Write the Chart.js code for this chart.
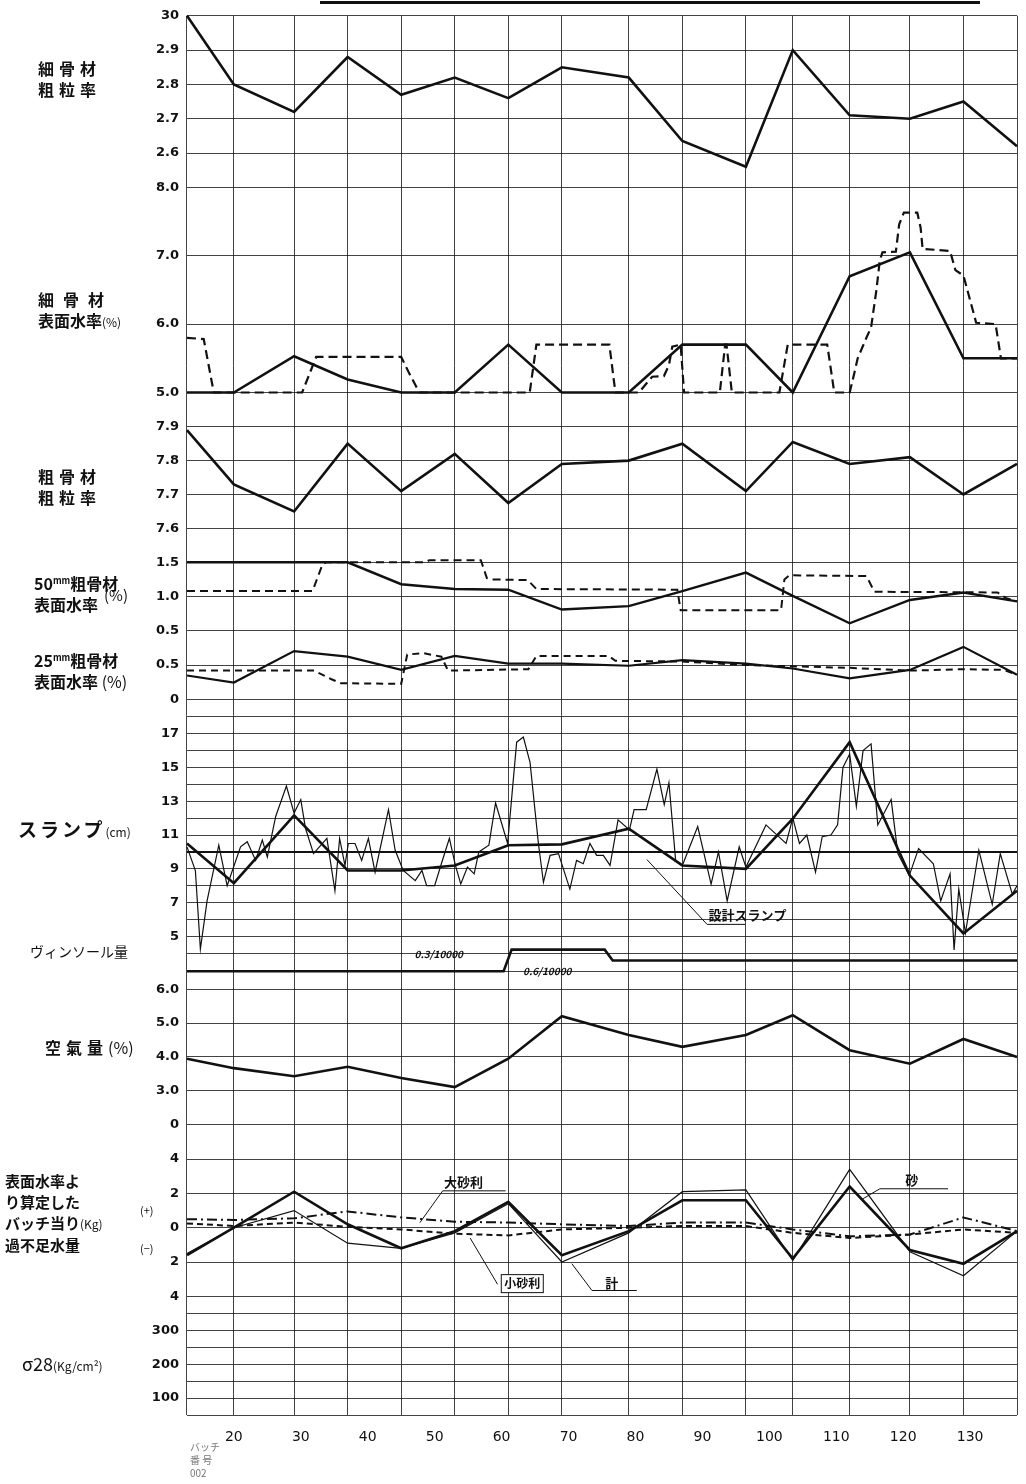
<!DOCTYPE html>
<html>
<head>
<meta charset="utf-8">
<script src="https://cdn.jsdelivr.net/npm/chart.js@4.4.0/dist/chart.umd.min.js"></script>
<style>
  body { margin: 0; background: #fff; }
  #wrap { position: relative; width: 1026px; height: 1484px; overflow: hidden; }
  #chart { position: absolute; left: 0; top: 0; }
  .ttl { position: absolute; font-family: "Noto Sans CJK JP", sans-serif; font-weight: 700; color: #111;
         font-size: 16px; line-height: 21px; white-space: nowrap; }
  .ttl small { font-size: 12px; font-weight: 400; }
  .ttl sup { font-size: 9px; }
  .topline { position: absolute; left: 320px; top: 1px; width: 660px; height: 3px; background: #111; }
</style>
</head>
<body>
<div id="wrap">
  <canvas id="chart" width="1026" height="1484"></canvas>
  <div class="topline"></div>

  <div class="ttl" style="left:38px;top:58px;letter-spacing:5px">細骨材<br>粗粒率</div>
  <div class="ttl" style="left:38px;top:289px"><span style="letter-spacing:9px">細骨材</span><br>表面水率<small>(%)</small></div>
  <div class="ttl" style="left:38px;top:466px;letter-spacing:5px">粗骨材<br>粗粒率</div>
  <div class="ttl" style="left:34px;top:570px">50<sup>mm</sup>粗骨材<br>表面水率</div>
  <div class="ttl" style="left:104px;top:584px;font-weight:400;font-size:15px">(%)</div>
  <div class="ttl" style="left:34px;top:647px">25<sup>mm</sup>粗骨材<br>表面水率 <span style="font-weight:400">(%)</span></div>
  <div class="ttl" style="left:18px;top:818px;font-size:19px;letter-spacing:3px">スランプ<small style="letter-spacing:0">(cm)</small></div>
  <div class="ttl" style="left:30px;top:941px;font-size:14px;font-weight:400">ヴィンソール量</div>
  <div class="ttl" style="left:45px;top:1037px;letter-spacing:5px">空氣量<span style="font-weight:400;letter-spacing:0">(%)</span></div>
  <div class="ttl" style="left:5px;top:1170px;font-size:15px;line-height:21px">表面水率よ<br>り算定した<br>バッチ当り<small>(Kg)</small><br>過不足水量</div>
  <div class="ttl" style="left:140px;top:1200px;font-size:11px;font-weight:400">(+)</div>
  <div class="ttl" style="left:140px;top:1238px;font-size:11px;font-weight:400">(−)</div>
  <div class="ttl" style="left:22px;top:1353px;font-size:18px;font-weight:400">σ28<small>(Kg/cm²)</small></div>
  <div class="ttl" style="left:190px;top:1440px;font-size:10px;line-height:13px;font-weight:400;color:#777">バッチ<br>番 号<br>002</div>
</div>

<script>
// batch numbers where the vertical rulings sit
const batchX = [13, 20, 29, 37, 45, 53, 61, 69, 79, 87, 96.5, 103.5, 112, 121, 129, 137];
const xTickLabels = [20, 30, 40, 50, 60, 70, 80, 90, 100, 110, 120, 130];

// fine aggregate fineness modulus
const fineFM = [3.0, 2.80, 2.72, 2.88, 2.77, 2.82, 2.76, 2.85, 2.82, 2.635, 2.56, 2.90, 2.71, 2.70, 2.75, 2.62];

// fine aggregate surface moisture (%)
const fineWet = [5.0, 5.0, 5.53, 5.19, 5.0, 5.0, 5.7, 5.0, 5.0, 5.7, 5.7, 5.0, 6.7, 7.05, 5.5, 5.5];
const fineWetDashX = [13, 15.5, 17, 30.2, 32.3, 45, 46.1, 47.7, 64.2, 65.2, 76.1, 77, 80.5, 82.5, 84.25, 85, 85.5, 86.75, 87.26,
  92.6, 93.4, 93.6, 94.4, 101.5, 102.75, 108.65, 109.7, 112, 112.5, 113.2, 114.5, 115.2, 116, 116.5, 116.9, 118.9, 119.4,
  120.1, 122.1, 122.6, 122.9, 127, 127.8, 129, 130.9, 133.8, 134.6, 137];
const fineWetDashY = [5.8, 5.78, 5.0, 5.0, 5.52, 5.52, 5.3, 5.0, 5.0, 5.7, 5.7, 5.0, 5.0, 5.23, 5.24, 5.4, 5.67, 5.7, 5.0,
  5.0, 5.7, 5.7, 5.0, 5.0, 5.7, 5.7, 5.0, 5.0, 5.2, 5.5, 5.8, 5.95, 6.5, 6.93, 7.05, 7.06, 7.46,
  7.63, 7.63, 7.41, 7.1, 7.07, 6.79, 6.71, 6.02, 6.0, 5.5, 5.5];

// coarse aggregate fineness modulus
const coarseFM = [7.89, 7.73, 7.65, 7.85, 7.71, 7.82, 7.675, 7.79, 7.80, 7.85, 7.71, 7.855, 7.79, 7.81, 7.70, 7.79];

// 50mm coarse aggregate surface moisture (%)
const wet50 = [1.5, 1.5, 1.5, 1.5, 1.18, 1.11, 1.1, 0.81, 0.86, 1.08, 1.35, 1.01, 0.61, 0.95, 1.06, 0.93];
const wet50DashX = [13, 31.75, 33.25, 33.8, 48.5, 49.2, 56.9, 57.8, 58.5, 63.9, 65.2, 86.25, 86.75, 101.75, 102.25, 103,
  114.5, 115.7, 134.1, 135.3, 137];
const wet50DashY = [1.08, 1.08, 1.47, 1.5, 1.5, 1.53, 1.53, 1.27, 1.25, 1.24, 1.11, 1.1, 0.8, 0.8, 1.25, 1.31,
  1.3, 1.07, 1.06, 0.98, 0.93];

// 25mm coarse aggregate surface moisture (%)
const wet25 = [0.35, 0.25, 0.7, 0.62, 0.43, 0.63, 0.52, 0.52, 0.49, 0.57, 0.52, 0.45, 0.31, 0.43, 0.76, 0.36];
const wet25DashX = [13, 32, 34.5, 36, 45, 45.9, 48.3, 51, 52, 64, 65.2, 76, 77, 87, 96.5, 112, 121, 129, 135, 137];
const wet25DashY = [0.42, 0.42, 0.3, 0.24, 0.23, 0.65, 0.67, 0.62, 0.42, 0.44, 0.63, 0.63, 0.56, 0.55, 0.5, 0.46, 0.42, 0.44, 0.43, 0.36];

// slump (cm): design value, batch mean, individual tests
const designSlumpX = [13, 137];
const designSlumpY = [10, 10];
const slumpMean = [10.5, 8.15, 12.16, 8.9, 8.9, 9.2, 10.4, 10.45, 11.38, 9.2, 9.0, 11.97, 16.5, 8.6, 5.17, 7.7];
const slumpTestX = [13, 14.25, 15, 16, 17.75, 19, 21, 22, 23.25, 24.25, 25, 26.25, 27.85, 29, 30, 30.7, 31.9, 33.9, 35.1,
  35.8, 36.6, 37.1, 38.1, 39.1, 40.1, 41.1, 43.1, 44.1, 45.3, 47.1, 48.1, 48.8, 50, 51, 52.2, 53.1, 53.9, 54.9, 55.9,
  56.6, 58.1, 59.1, 60.9, 62.25, 63.25, 64.25, 65.5, 66.25, 67.25, 68.5, 70.2, 71.2, 72.2, 73.2, 74.2, 75.2, 76.2, 77.4,
  79.1, 79.8, 81.6, 83.2, 84.3, 85, 86, 87, 89.3, 91.3, 92.4, 93.7, 95.5, 96.5, 99.5, 102.5, 103.5, 104.5, 105.6, 106.9,
  107.9, 109.2, 110.2, 111, 112, 113, 114, 115.2, 116.2, 118.2, 119.2, 120.9, 122.3, 124.5, 125.6, 127, 127.6, 128.3,
  129.3, 131.3, 133.3, 134.5, 136.3, 137];
const slumpTestY = [10.3, 8.9, 4.25, 7.1, 10.4, 8.0, 10.3, 10.6, 9.5, 10.7, 9.7, 12.1, 13.9, 12.3, 13.1, 11.4, 9.9, 10.8, 7.7,
  10.8, 9.2, 10.5, 10.5, 9.5, 10.8, 8.8, 12.5, 10.1, 8.9, 8.3, 8.9, 8.0, 8.0, 9.3, 10.8, 9.2, 8.1, 9.1, 8.7,
  10.0, 10.4, 12.9, 10.5, 16.5, 16.8, 15.3, 10.5, 8.2, 9.8, 9.9, 7.8, 9.5, 9.3, 10.5, 9.8, 9.8, 9.2, 11.9,
  11.3, 12.5, 12.5, 14.9, 12.8, 14.1, 9.5, 9.2, 11.5, 8.1, 10.0, 7.1, 10.3, 9.1, 11.6, 10.5, 12.0, 10.5, 11.0, 8.8,
  10.9, 11.0, 11.6, 15.0, 15.8, 12.7, 16.0, 16.4, 11.6, 13.1, 9.9, 8.6, 10.2, 9.3, 7.1, 8.7, 4.2, 7.8,
  5.2, 10.1, 6.9, 9.9, 7.5, 8.0];

// vinsol dosage (per 10000 of cement)
const vinsolX = [13, 60.3, 61.5, 75.4, 76.6, 137];
const vinsolY = [0.3, 0.3, 0.6, 0.6, 0.45, 0.45];

// air content (%)
const air = [3.95, 3.67, 3.43, 3.71, 3.38, 3.11, 3.95, 5.2, 4.65, 4.3, 4.65, 5.23, 4.2, 3.8, 4.53, 4.0];

// excess / shortage of water per batch (kg)
const waterTotal = [-1.6, 0, 2.1, 0.2, -1.2, -0.2, 1.5, -1.6, -0.2, 1.6, 1.6, -1.8, 2.4, -1.3, -2.1, -0.2];
const waterSand = [-1.5, 0, 1.0, -0.9, -1.2, -0.3, 1.4, -2.0, -0.3, 2.1, 2.2, -1.9, 3.4, -1.4, -2.8, -0.2];
const waterGravelL = [0.5, 0.45, 0.55, 0.95, 0.6, 0.35, 0.3, 0.2, 0.1, 0.3, 0.3, -0.1, -0.5, -0.4, 0.6, -0.2];
const waterGravelS = [0.25, 0.1, 0.3, 0.05, -0.1, -0.35, -0.45, -0.1, 0, 0.1, 0.1, -0.3, -0.6, -0.4, -0.1, -0.3];

const GRID = 'rgba(20,20,20,0.8)';
const INK = '#111';

// stacked panels, top to bottom (h = share of the plot height)
const panels = [
  { id: 'fm', h: 172, min: 2.5, max: 3.0, ticks: [3.0, 2.9, 2.8, 2.7, 2.6], labels: ['30', '2.9', '2.8', '2.7', '2.6'] },
  { id: 'wet', h: 240, min: 4.5, max: 8.0, ticks: [8, 7, 6, 5], labels: ['8.0', '7.0', '6.0', '5.0'] },
  { id: 'cfm', h: 136, min: 7.5, max: 7.9, ticks: [7.9, 7.8, 7.7, 7.6], labels: ['7.9', '7.8', '7.7', '7.6'] },
  { id: 'w50', h: 103, min: 0, max: 1.5, ticks: [1.5, 1.0, 0.5], labels: ['1.5', '1.0', '0.5'] },
  { id: 'w25', h: 35, min: 0, max: 0.5, ticks: [0.5, 0], labels: ['0.5', '0'] },
  { id: 'slump', h: 254, min: 4, max: 19, ticks: [18, 17, 16, 15, 14, 13, 12, 11, 10, 9, 8, 7, 6, 5, 4],
    labels: ['', '17', '', '15', '', '13', '', '11', '', '9', '', '7', '', '5', ''] },
  { id: 'vinsol', h: 36, min: 0.05, max: 0.55, ticks: [0.3], labels: [''] },
  { id: 'air', h: 136, min: 2, max: 6, ticks: [6, 5, 4, 3, 2], labels: ['6.0', '5.0', '4.0', '3.0', '0'] },
  { id: 'water', h: 172, min: -4, max: 6, ticks: [4, 2, 0, -2, -4], labels: ['4', '2', '0', '2', '4'] },
  { id: 'sigma', h: 119, min: 50, max: 400, ticks: [350, 300, 250, 200, 150, 100, 50], labels: ['', '300', '', '200', '', '100', ''] }
];

const zip = (xs, ys) => xs.map((x, i) => ({ x: x, y: ys[i] }));

function line(axis, xs, ys, width, dash) {
  return {
    yAxisID: axis, xAxisID: 'x', data: zip(xs, ys),
    borderColor: INK, borderWidth: width, borderDash: dash || [],
    pointRadius: 0, tension: 0, clip: false, fill: false
  };
}

const datasets = [
  line('fm', batchX, fineFM, 2.6),
  line('wet', batchX, fineWet, 2.6),
  line('wet', fineWetDashX, fineWetDashY, 2.2, [9, 5]),
  line('cfm', batchX, coarseFM, 2.6),
  line('w50', batchX, wet50, 2.4),
  line('w50', wet50DashX, wet50DashY, 2, [8, 5]),
  line('w25', batchX, wet25, 2.2),
  line('w25', wet25DashX, wet25DashY, 2, [7, 5]),
  line('slump', designSlumpX, designSlumpY, 2),
  line('slump', slumpTestX, slumpTestY, 1.2),
  line('slump', batchX, slumpMean, 2.6),
  line('vinsol', vinsolX, vinsolY, 2.6),
  line('air', batchX, air, 2.6),
  line('water', batchX, waterGravelL, 2, [10, 4, 2, 4]),
  line('water', batchX, waterGravelS, 2, [6, 4]),
  line('water', batchX, waterSand, 1.2),
  line('water', batchX, waterTotal, 2.6)
];

// callouts, placed in data units of their panel
const notes = [
  { y: 'slump', path: [[81.7, 9.55], [90.7, 5.71], [96.4, 5.71]], text: '設計スランプ', tx: 90.9, ty: 6.25, size: 13 },
  { y: 'vinsol', text: '0.3/10000', tx: 47, ty: 0.53, size: 10, italic: true },
  { y: 'vinsol', text: '0.6/10000', tx: 63.2, ty: 0.3, size: 10, italic: true },
  { y: 'water', path: [[47.8, 0.3], [51.2, 2.15], [60.6, 2.15]], text: '大砂利', tx: 51.4, ty: 2.65, size: 13 },
  { y: 'water', path: [[55.3, -0.6], [59.4, -3.3]], text: '小砂利', tx: 60.4, ty: -3.26, size: 12, box: true },
  { y: 'water', path: [[70.5, -2.1], [73.5, -3.66], [80.2, -3.66]], text: '計', tx: 75.5, ty: -3.2, size: 13 },
  { y: 'water', path: [[114, 1.69], [116.5, 2.27], [126.7, 2.27]], text: '砂', tx: 120.3, ty: 2.75, size: 13 }
];

const notePlugin = {
  id: 'notes',
  afterDatasetsDraw(chart) {
    const ctx = chart.ctx;
    const sx = chart.scales.x;
    ctx.save();
    notes.forEach(n => {
      const sy = chart.scales[n.y];
      ctx.strokeStyle = INK;
      ctx.lineWidth = 1;
      if (n.path) {
        ctx.beginPath();
        n.path.forEach((p, i) => {
          const px = sx.getPixelForValue(p[0]), py = sy.getPixelForValue(p[1]);
          if (i === 0) ctx.moveTo(px, py); else ctx.lineTo(px, py);
        });
        ctx.stroke();
      }
      ctx.font = (n.italic ? 'italic ' : '') + '700 ' + n.size + 'px "Noto Sans CJK JP", sans-serif';
      ctx.fillStyle = INK;
      ctx.textBaseline = 'middle';
      ctx.textAlign = 'left';
      const tx = sx.getPixelForValue(n.tx), ty = sy.getPixelForValue(n.ty);
      if (n.box) {
        const w = ctx.measureText(n.text).width;
        ctx.fillStyle = '#fff';
        ctx.fillRect(tx - 3, ty - 9, w + 6, 18);
        ctx.strokeRect(tx - 3, ty - 9, w + 6, 18);
        ctx.fillStyle = INK;
      }
      ctx.fillText(n.text, tx, ty);
    });
    ctx.restore();
  }
};

const scales = {
  x: {
    type: 'linear', position: 'bottom', min: 13, max: 137,
    border: { display: false },
    grid: { color: GRID, lineWidth: 1, drawTicks: false },
    ticks: { display: false },
    afterBuildTicks: s => { s.ticks = batchX.map(v => ({ value: v })); },
    afterFit: s => { s.height = 0; }
  },
  x2: {
    type: 'linear', position: 'bottom', min: 13, max: 137,
    border: { display: false },
    grid: { display: false },
    ticks: { autoSkip: false, padding: 6, color: INK, font: { family: 'DejaVu Sans', size: 14 } },
    afterBuildTicks: s => { s.ticks = xTickLabels.map(v => ({ value: v })); },
    afterFit: s => { s.height = 30; }
  }
};

// the layout stacks left axes in reverse order of definition, so add them bottom-up
panels.slice().reverse().forEach(p => {
  scales[p.id] = {
    type: 'linear', position: 'left', stack: 'panels', stackWeight: p.h,
    min: p.min, max: p.max,
    border: { display: false },
    grid: { color: GRID, lineWidth: 1, drawTicks: false },
    afterBuildTicks: s => { s.ticks = p.ticks.map(v => ({ value: v })); },
    afterFit: s => { s.width = 187; },
    ticks: {
      autoSkip: false, padding: 8, color: INK,
      font: { family: 'DejaVu Sans', size: 13, weight: '600' },
      callback: (v, i) => p.labels[i]
    }
  };
});

new Chart(document.getElementById('chart'), {
  type: 'line',
  data: { datasets: datasets },
  options: {
    responsive: false,
    animation: false,
    layout: { padding: { top: 9, right: 9, bottom: 39, left: 0 } },
    plugins: { legend: { display: false }, tooltip: { enabled: false } },
    scales: scales
  },
  plugins: [notePlugin]
});
</script>
</body>
</html>
